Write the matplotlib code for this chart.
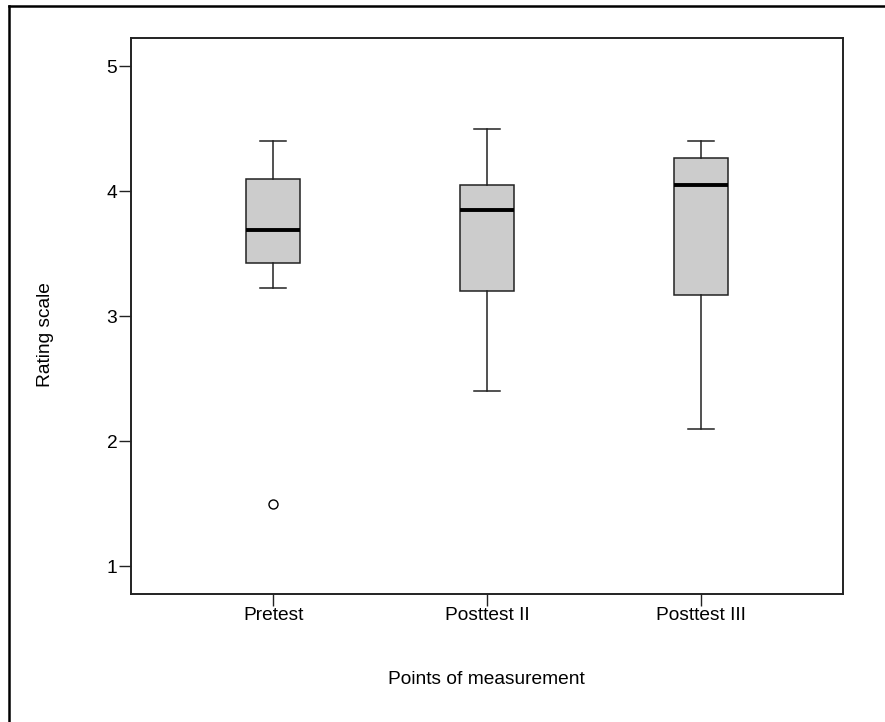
#! /usr/bin/env python
# -*- coding:utf-8 -*-

import matplotlib
matplotlib.use('Agg')  # no gui
import matplotlib.pyplot as plt
from matplotlib.lines import Line2D

# values
groups = ['Pretest', 'Posttest II', 'Posttest III']
whisker_low = [3.23, 2.40, 2.10]
quart1 = [3.43, 3.20, 3.17]
medians = [3.69, 3.85, 4.05]
quart3 = [4.10, 4.05, 4.27]
whisker_high = [4.40, 4.50, 4.40]
outliers = [[1.50], [], []]

yticks = [1, 2, 3, 4, 5]

plt.rcParams['font.family'] = ['Liberation Sans', 'DejaVu Sans']


def main():
    fig = plt.figure(figsize=(8.85, 7.22), dpi=100)
    ax = fig.add_axes([0.1475, 0.1773, 0.8056, 0.7705])

    stats = []
    for i, name in enumerate(groups):
        stats.append(dict(label=name, med=medians[i], q1=quart1[i], q3=quart3[i],
                          whislo=whisker_low[i], whishi=whisker_high[i],
                          fliers=outliers[i]))

    ax.bxp(stats, positions=[1, 2, 3], widths=0.25, capwidths=0.125,
           patch_artist=True, showfliers=True,
           boxprops=dict(facecolor='#cccccc', edgecolor='#222222', linewidth=1.1),
           medianprops=dict(color='black', linewidth=2.8, solid_capstyle='butt'),
           whiskerprops=dict(color='#222222', linewidth=1.1),
           capprops=dict(color='#222222', linewidth=1.1),
           flierprops=dict(marker='o', markerfacecolor='white',
                           markeredgecolor='black', markersize=6.5,
                           markeredgewidth=1.0))

    ax.set_xlim(1 / 3.0, 11 / 3.0)
    ax.set_ylim(0.778, 5.229)
    ax.set_yticks(yticks)
    ax.set_yticklabels([str(t) for t in yticks])
    ax.set_xticks([1, 2, 3])
    ax.set_xticklabels(groups)
    ax.tick_params(axis='both', direction='out', length=8.5, width=1.0,
                   labelsize=13.8, pad=1, color='#222222')

    for sp in ax.spines.values():
        sp.set_linewidth(1.4)
        sp.set_color('#222222')

    fig.text(45.5 / 885.0, 1 - 335 / 722.0, 'Rating scale', rotation=90,
             fontsize=13.8, ha='center', va='center')
    fig.text(486 / 885.0, 1 - 680 / 722.0, 'Points of measurement',
             fontsize=13.8, ha='center', va='center')

    # outer frame (left and top edge only visible)
    fig.add_artist(Line2D([9 / 885.0, 9 / 885.0], [0, 1 - 6 / 722.0],
                          transform=fig.transFigure, color='black', linewidth=1.8))
    fig.add_artist(Line2D([9 / 885.0, 1], [1 - 6 / 722.0, 1 - 6 / 722.0],
                          transform=fig.transFigure, color='black', linewidth=1.8))

    fig.savefig('out.png', dpi=100)


if __name__ == '__main__':
    main()
